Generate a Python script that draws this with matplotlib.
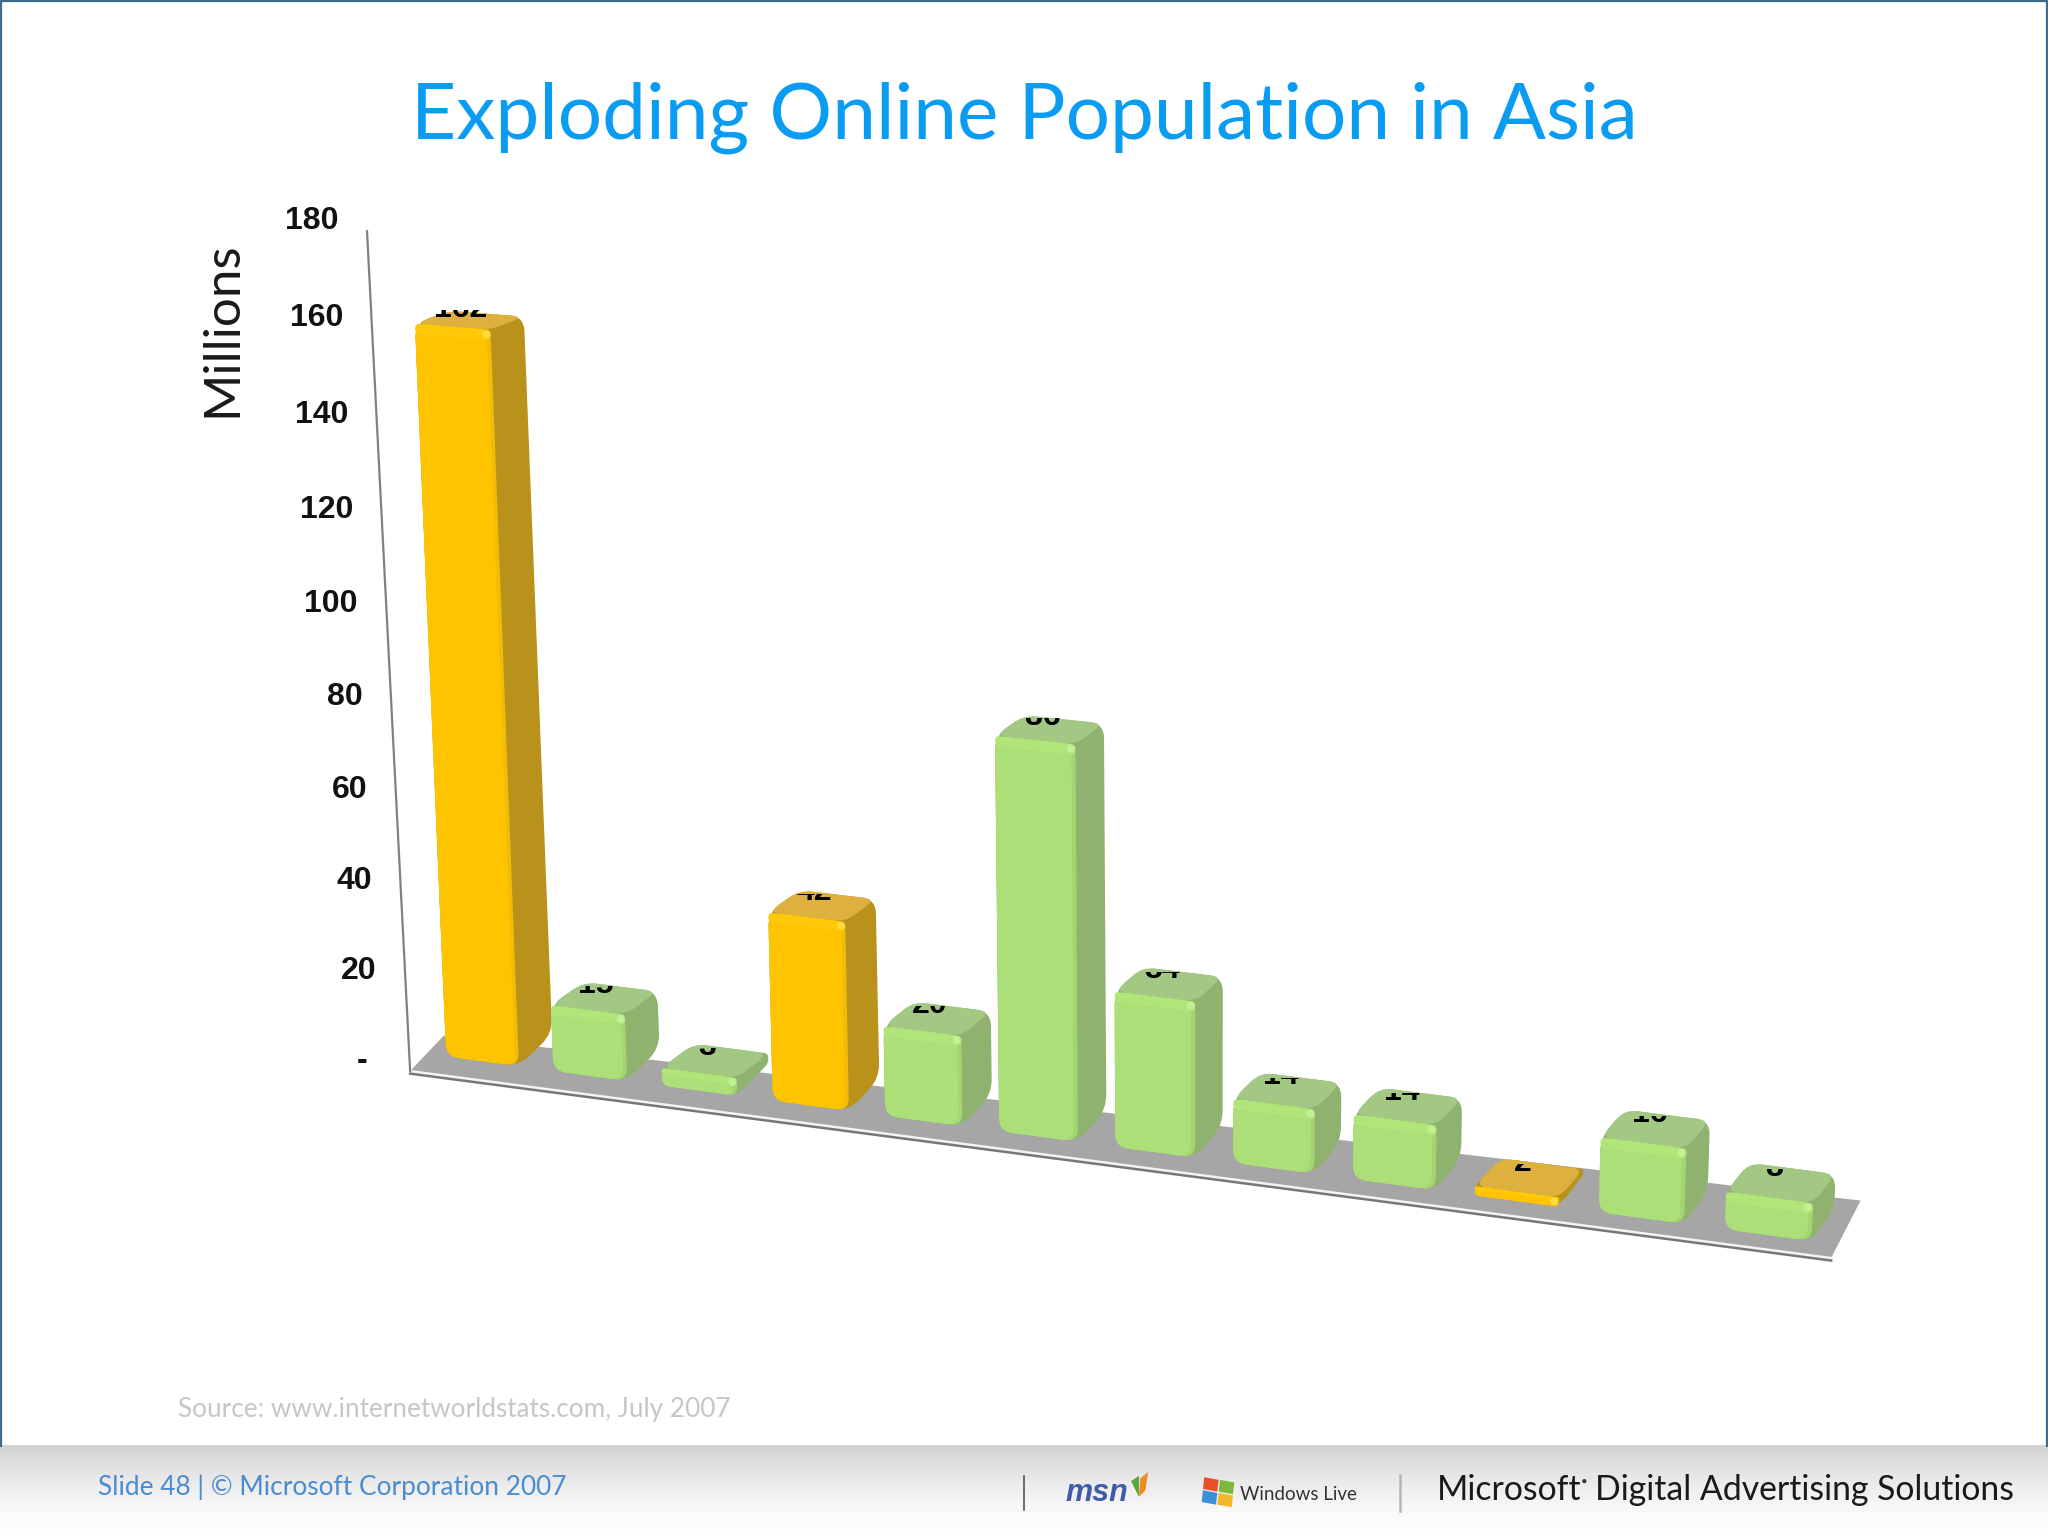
import numpy as np
import matplotlib
matplotlib.use("Agg")
import matplotlib.pyplot as plt
from matplotlib.path import Path
from matplotlib.patches import PathPatch, Polygon, Rectangle
from matplotlib.transforms import Transform

# ---- data -------------------------------------------------------------
values = [162, 15, 4, 42, 20, 86, 34, 14, 14, 2, 16, 8]
value_labels = ["162", "15", "3", "42", "20", "86", "34", "14", "14", "2", "16", "8"]
highlighted = [True, False, False, True, False, False, False, False, False, True, False, False]
y_ticks = [0, 20, 40, 60, 80, 100, 120, 140, 160, 180]
y_tick_labels = ["-", "20", "40", "60", "80", "100", "120", "140", "160", "180"]
title = "Exploding Online Population in Asia"
y_title = "Millions"
source = "Source: www.internetworldstats.com, July 2007"
slide_note = "Slide 48 | © Microsoft Corporation 2007"

# ---- perspective scale: (category, value) -> picture position ----------
def homography(src, dst):
    A, b = [], []
    for (u, v), (x, y) in zip(src, dst):
        A.append([u, v, 1, 0, 0, 0, -u*x, -v*x]); b.append(x)
        A.append([0, 0, 0, u, v, 1, -u*y, -v*y]); b.append(y)
    sol = np.linalg.lstsq(np.array(A, float), np.array(b, float), rcond=None)[0]
    return np.append(sol, 1).reshape(3, 3)

# calibration of the drawing plane against the picture's geometry
CAL_BASE_X = [343, 423, 505, 590, 675, 764, 853, 942, 1034, 1130, 1226, 1325]
CAL_BASE_Y = [811, 822, 833, 844, 856, 867, 879, 891, 904, 916, 929, 942]
src = [(k, 0) for k in range(12)] + [(0, 0)] * 4 + [(1, 0)] * 2 + [(0, 162)] * 3 + [(5, 86)] * 2 + [(3, 42), (6, 34), (7, 14), (8, 14), (10, 16), (11, 8), (11, 180)]
dst = list(zip(CAL_BASE_X, CAL_BASE_Y)) + [(345, 811)] * 4 + [(424, 822)] * 2 + [(318, 245)] * 3 + [(757, 557)] * 2 + [(586, 696), (850, 754), (942, 837), (1034, 848), (1226, 871), (1325, 905), (1348, 278)]
H_FRONT = homography(src, dst)

class ChartProjection(Transform):
    """(category, value) -> picture; `plane` moves a point front-to-back of the bars."""
    input_dims = output_dims = 2
    is_affine = False
    def __init__(self, plane=0.0):
        super().__init__()
        self.plane = plane
    def transform_non_affine(self, values):
        values = np.asarray(values, float)
        p = np.column_stack([values, np.ones(len(values))])
        f = p @ H_FRONT.T; f = f[:, :2] / f[:, 2:]
        u, v = values[:, 0], values[:, 1]
        dx = 26 - 0.75 * u
        dy = np.where(v <= 0, -25.0, -(18 + 0.4 * u) + 0.05 * v)
        return f + self.plane * np.column_stack([dx, dy])

def P(u, v, d=0.0):
    return ChartProjection(d).transform(np.array([[u, v]], float))[0]

# value axis: its own perspective scale along the line (314,820)-(281,177)
AX_B, AX_T, AX_M = 820.0, 177.0, 542.0
_m = np.array([[180, -180 * AX_T], [80, -80 * AX_M]], float)
AX_A, AX_C = np.linalg.solve(_m, np.array([AX_T - AX_B, AX_M - AX_B]))
def axis_point(v):
    y = (AX_B + AX_A * v) / (1 + AX_C * v)
    x = 314 + (281 - 314) * (AX_B - y) / (AX_B - AX_T)
    return x, y

def rounded(points, r):
    pts = [np.asarray(p, float) for p in points]
    n = len(pts)
    rs = r if np.iterable(r) else [r] * n
    verts, codes = [], []
    for i in range(n):
        p, a, b = pts[i], pts[i-1], pts[(i+1) % n]
        la, lb = np.linalg.norm(a-p), np.linalg.norm(b-p)
        rr = min(rs[i], la*0.45, lb*0.45)
        s, e = p + (a-p)/max(la, 1e-6)*rr, p + (b-p)/max(lb, 1e-6)*rr
        verts += [s, p, e]
        codes += [Path.MOVETO if i == 0 else Path.LINETO, Path.CURVE3, Path.CURVE3]
    verts.append(verts[0]); codes.append(Path.CLOSEPOLY)
    return Path(verts, codes)

plt.rcParams["font.family"] = ["Liberation Sans", "DejaVu Sans"]
fig = plt.figure(figsize=(20.48, 15.36), dpi=100, facecolor="white")
ax = fig.add_axes([0, 0, 1, 1])
ax.set_xlim(0, 1568); ax.set_ylim(1176, 0); ax.axis("off")

# ---- slide frame / footer ----------------------------------------------
t = np.linspace(0, 1, 70)
shade = 1 - 0.175 * (1 - t) ** 1.5
grad = np.ones((70, 2, 3))
grad[:, :, 0] = shade[:, None]; grad[:, :, 1] = shade[:, None]; grad[:, :, 2] = np.clip(shade[:, None] + 0.006, 0, 1)
ax.imshow(grad, extent=[0, 1568, 1176, 1107], aspect="auto", zorder=0, interpolation="bilinear")
ax.set_xlim(0, 1568); ax.set_ylim(1176, 0)
ax.plot([0.7, 0.7, 1567.3, 1567.3], [1107, 0.7, 0.7, 1107], color="#3F6C8C", lw=1.6, zorder=1)

ax.text(784, 90, title, ha="center", va="center", color="#0A9CF2", fontsize=56.5, family="Lato")
ax.text(170, 252, y_title, rotation=90, ha="center", va="center", color="#1a1a1a", fontsize=36.8, family="Lato")
ax.text(136, 1079, source, ha="left", va="center", color="#C6C6C6", fontsize=18.8, family="Lato")
ax.text(75, 1139, slide_note, ha="left", va="center", color="#4A8CD0", fontsize=18.9, family="Lato")

# ---- floor and axis ----------------------------------------------------
floor = [np.array(axis_point(0)), P(11.9, 0, -0.4), P(11.83, 0, 1.32), P(-0.2, 0, 0.55)]
ax.add_patch(Polygon(floor, closed=True, fc="#A6A6A6", ec="none", zorder=2))
lo = np.array([floor[0], floor[1]])
ax.plot(lo[:, 0], lo[:, 1] + 0.2, color="#F4F4F4", lw=2.0, zorder=2.1)
ax.plot(lo[:, 0], lo[:, 1] + 2.0, color="#777777", lw=1.8, zorder=2.1)
axis_pts = np.array([axis_point(0), axis_point(180)])
ax.plot(axis_pts[:, 0], axis_pts[:, 1], color="#808080", lw=1.6, zorder=2.2)

for tick, lab in zip(y_ticks, y_tick_labels):
    x, y = axis_point(tick)
    ax.text(x - (33 if tick == 0 else 22), y - 8, lab, ha="right", va="center", color="#111111",
            fontsize=23, fontweight="bold", zorder=3)

# ---- bars --------------------------------------------------------------
BW = 0.68
GOLD = dict(front="#FFC400", side="#B8921A", top="#DDB040", rim="#FFC808", spark="#FFDC40", edge="#F0BC08")
GREEN = dict(front="#ADDF78", side="#8FB36E", top="#A3C883", rim="#B1E57A", spark="#C4F094", edge="#A2D472")

for i, (val, lab, hot) in enumerate(zip(values, value_labels, highlighted)):
    c = GOLD if hot else GREEN
    z = 4 + i * 0.1
    u0, u1 = i, i + BW
    fl0, fr0, bl0, br0 = P(u0, 0), P(u1, 0), P(u0, 0, 1), P(u1, 0, 1)
    fl1, fr1, bl1, br1 = P(u0, val), P(u1, val), P(u0, val, 1), P(u1, val, 1)
    ax.add_patch(PathPatch(rounded([fl0, fr0, br0, br1, bl1, fl1], 11), fc=c["side"], ec="none", zorder=z))
    ax.add_patch(PathPatch(rounded([fl1, fr1, br1, bl1], 9), fc=c["top"], ec="none", zorder=z + 0.01))
    ax.add_patch(PathPatch(rounded([fl0, fr0, fr1, fl1], 10), fc=c["edge"], ec="none", zorder=z + 0.02))
    inset = 0.035
    ax.add_patch(PathPatch(rounded([fl0, P(u1 - inset, 0), P(u1 - inset, val), fl1], 10), fc=c["front"], ec="none", zorder=z + 0.03))
    band = min(2.2, val * 0.4)
    ax.add_patch(PathPatch(rounded([P(u0, val - band), P(u1, val - band), fr1, fl1], 6), fc=c["rim"], ec="none", zorder=z + 0.04))
    sx, sy = P(u1 - 0.04, val - 1.0)
    ax.add_patch(PathPatch(Path.circle((sx, sy), 3.0), fc=c["spark"], ec="none", zorder=z + 0.05))

    # value label: only the foot of the digits shows behind the bar top
    lx = P(i + BW * 0.5, val, 0.25)[0]
    ly = P(i + BW * 0.5, val, 0.75)[1]
    txt = ax.text(lx, ly, lab, ha="center", va="baseline", color="black", fontsize=23,
                  fontweight="bold", zorder=z + 0.06)
    txt.set_clip_on(True)
    txt.set_clip_path(Rectangle((lx - 40, ly - 5.0), 80, 12, transform=ax.transData))

# ---- footer branding ---------------------------------------------------
ax.plot([784, 784], [1130, 1156], color="#555555", lw=1.2, zorder=3)
ax.plot([1072, 1072], [1129, 1157], color="#B5B5B5", lw=1.8, zorder=3)
ax.text(816, 1143, "msn", ha="left", va="center", color="#3F5CA8", fontsize=22,
        fontweight="bold", style="italic", zorder=3)
ax.add_patch(Polygon([(866, 1134), (872, 1130), (872, 1146)], fc="#58A83C", ec="none", zorder=3))
ax.add_patch(Polygon([(872, 1146), (873, 1132), (879, 1127), (877, 1141)], fc="#F08A24", ec="none", zorder=3))
for xy, col in [((922, 1131), "#E8502A"), ((934, 1133), "#7FB83A"), ((921, 1141), "#3C8FD8"), ((933, 1143), "#F2B72A")]:
    ax.add_patch(Polygon([xy, (xy[0] + 11, xy[1] + 2), (xy[0] + 10, xy[1] + 11), (xy[0] - 1, xy[1] + 9)], fc=col, ec="none", zorder=3))
ax.text(949, 1144, "Windows Live", ha="left", va="center", color="#333333", fontsize=13.5, family="Lato", zorder=3)
ax.text(1100, 1141, "Microsoft", ha="left", va="center", color="#1a1a1a", fontsize=24.3, family="Lato", zorder=3)
ax.add_patch(PathPatch(Path.circle((1213, 1134), 1.6), fc="#333333", ec="none", zorder=3))
ax.text(1221, 1141, "Digital Advertising Solutions", ha="left", va="center", color="#1a1a1a", fontsize=24.3, family="Lato", zorder=3)

fig.savefig("out.png", dpi=100, facecolor="white")
